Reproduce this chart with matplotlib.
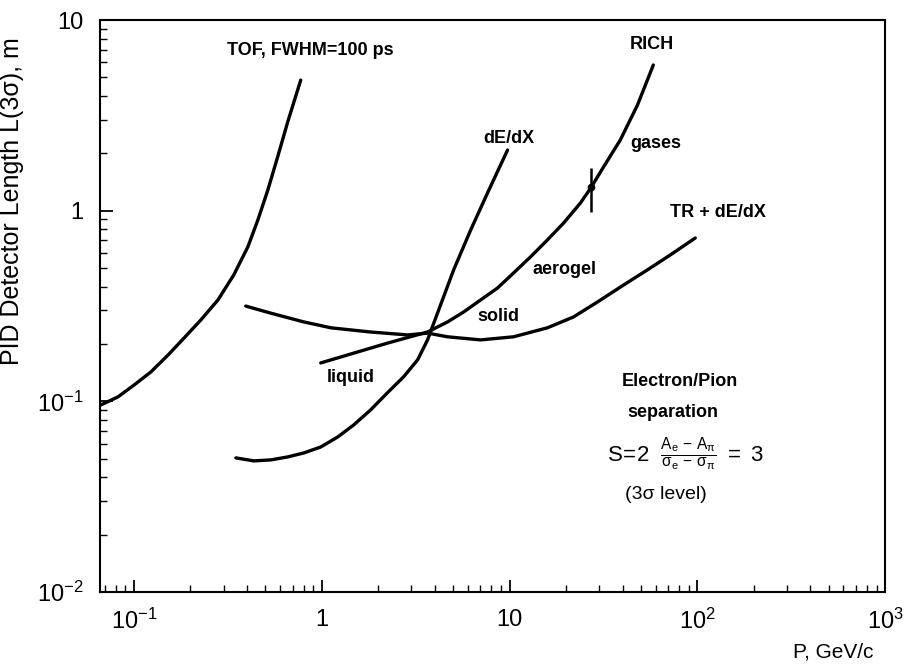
import matplotlib
matplotlib.use('Agg')
import matplotlib.pyplot as plt

plt.rcParams['font.family'] = ['Liberation Sans', 'DejaVu Sans']
plt.rcParams['mathtext.fontset'] = 'custom'
plt.rcParams['mathtext.rm'] = 'Liberation Sans'
plt.rcParams['mathtext.it'] = 'Liberation Sans'

# curves (P in GeV/c, L in m)
tof_p = [0.0667, 0.0822, 0.100, 0.123, 0.152, 0.185, 0.227, 0.280, 0.340,
         0.404, 0.457, 0.516, 0.583, 0.659, 0.773]
tof_l = [0.0958, 0.1055, 0.1216, 0.1425, 0.175, 0.215, 0.267, 0.340, 0.460,
         0.645, 0.894, 1.28, 1.92, 2.92, 4.84]

dedx_p = [0.349, 0.435, 0.536, 0.659, 0.802, 0.988, 1.216, 1.48, 1.82, 2.24,
          2.73, 3.24, 3.66, 4.14, 5.04, 6.21, 7.64, 9.76]
dedx_l = [0.0505, 0.0487, 0.0493, 0.0511, 0.0536, 0.0576, 0.065, 0.0752,
          0.0901, 0.111, 0.1345, 0.165, 0.210, 0.291, 0.489, 0.792, 1.24, 2.08]

rich_p = [0.988, 1.48, 2.24, 3.66, 4.68, 5.69, 7.01, 8.63, 10.5, 12.9, 15.9,
          19.4, 23.9, 27.0, 31.6, 38.9, 48.0, 58.3]
rich_l = [0.159, 0.179, 0.202, 0.231, 0.261, 0.294, 0.340, 0.393, 0.471,
          0.571, 0.702, 0.861, 1.10, 1.31, 1.69, 2.35, 3.58, 5.81]

tr_p = [0.394, 0.536, 0.802, 1.12, 1.82, 2.87, 3.66, 4.68, 7.01, 10.5, 15.9,
        21.9, 29.4, 40.4, 54.2, 71.8, 97.5]
tr_l = [0.316, 0.290, 0.261, 0.243, 0.231, 0.223, 0.228, 0.218, 0.210, 0.218,
        0.243, 0.277, 0.332, 0.407, 0.489, 0.586, 0.719]

# RICH gases point with its error bar
err_p = [27.0]
err_l = [1.33]
err_lo = [0.345]
err_hi = [0.345]

xticks = [0.1, 1, 10, 100, 1000]
xticklabels = ['$10^{-1}$', '1', '10', '$10^{2}$', '$10^{3}$']
yticks = [0.01, 0.1, 1, 10]
yticklabels = ['$10^{-2}$', '$10^{-1}$', '1', '10']

fig = plt.figure(figsize=(9.22, 6.68), dpi=100)
ax = fig.add_axes([0.1085, 0.1138, 0.8515, 0.8562])

for p, l in [(tof_p, tof_l), (dedx_p, dedx_l), (rich_p, rich_l), (tr_p, tr_l)]:
    ax.plot(p, l, color='black', lw=2.4, solid_capstyle='round',
            solid_joinstyle='round')

ax.errorbar(err_p, err_l, yerr=[err_lo, err_hi], fmt='o', color='black',
            ms=4.5, elinewidth=1.8, capsize=0)

ax.set_xscale('log')
ax.set_yscale('log')
ax.set_xlim(0.066, 1000)
ax.set_ylim(0.01, 10)

ax.set_xticks(xticks)
ax.set_xticklabels(xticklabels)
ax.set_yticks(yticks)
ax.set_yticklabels(yticklabels)
ax.tick_params(which='both', direction='in', top=False, right=False,
               labelsize=17)
ax.tick_params(which='major', length=9, width=1.3, pad=12)
ax.tick_params(which='minor', length=5, width=1.0)
for s in ax.spines.values():
    s.set_linewidth(1.5)

ax.set_ylabel('PID Detector Length L(3σ), m', fontsize=18)
ax.yaxis.set_label_coords(-0.097, 0.684)
ax.set_xlabel('P, GeV/c', fontsize=15, ha='right')
ax.xaxis.set_label_coords(0.985, -0.088)

bold = dict(fontsize=13, fontweight='bold', ha='center', va='center')
ax.text(0.874, 6.96, 'TOF, FWHM=100 ps', **bold)
ax.text(56.9, 7.4, 'RICH', **bold)
ax.text(9.9, 2.4, 'dE/dX', **bold)
ax.text(59.8, 2.26, 'gases', **bold)
ax.text(129, 0.98, 'TR + dE/dX', **bold)
ax.text(19.6, 0.489, 'aerogel', **bold)
ax.text(8.74, 0.277, 'solid', **bold)
ax.text(1.43, 0.134, 'liquid', **bold)
ax.text(81.2, 0.1277, 'Electron/Pion', **bold)
ax.text(74.5, 0.0879, 'separation', **bold)
ax.text(86.3, 0.0528,
        r'$S\!=\!2\ \ \frac{A_e\,-\,A_\pi}{\sigma_e\,-\,\sigma_\pi}\ =\ 3$',
        fontsize=16, ha='center', va='center')
ax.text(68.4, 0.0323, '(3σ level)', fontsize=14, ha='center', va='center')

fig.savefig('out.png', dpi=100)
